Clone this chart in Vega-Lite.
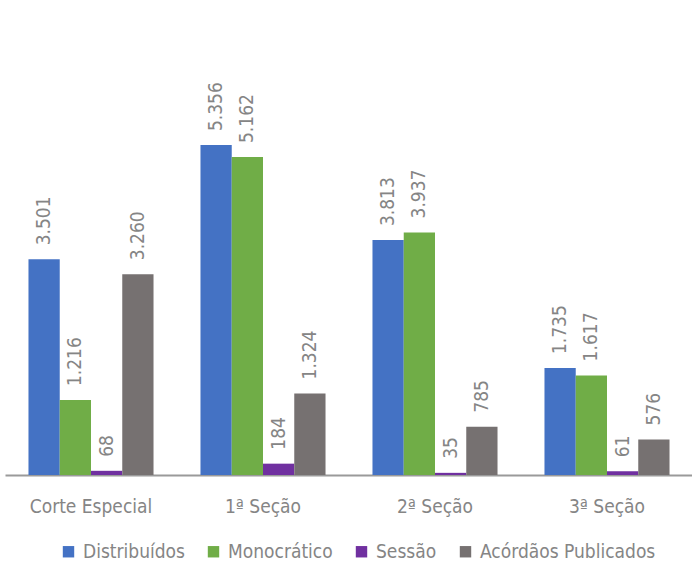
{
  "$schema": "https://vega.github.io/schema/vega-lite/v6.json",
  "width": 688,
  "height": 475,
  "autosize": {"type": "none"},
  "padding": {"left": 5, "top": 0, "right": 0, "bottom": 88},
  "background": "white",
  "config": {
    "view": {"stroke": null},
    "locale": {"number": {"decimal": ",", "thousands": ".", "grouping": [3], "currency": ["R$", ""]}},
    "font": "'DejaVu Sans Condensed', Roboto"
  },
  "data": {
    "values": [
      {"orgao": "Corte Especial", "serie": "Distribuídos", "valor": 3501},
      {"orgao": "Corte Especial", "serie": "Monocrático", "valor": 1216},
      {"orgao": "Corte Especial", "serie": "Sessão", "valor": 68},
      {"orgao": "Corte Especial", "serie": "Acórdãos Publicados", "valor": 3260},
      {"orgao": "1ª Seção", "serie": "Distribuídos", "valor": 5356},
      {"orgao": "1ª Seção", "serie": "Monocrático", "valor": 5162},
      {"orgao": "1ª Seção", "serie": "Sessão", "valor": 184},
      {"orgao": "1ª Seção", "serie": "Acórdãos Publicados", "valor": 1324},
      {"orgao": "2ª Seção", "serie": "Distribuídos", "valor": 3813},
      {"orgao": "2ª Seção", "serie": "Monocrático", "valor": 3937},
      {"orgao": "2ª Seção", "serie": "Sessão", "valor": 35},
      {"orgao": "2ª Seção", "serie": "Acórdãos Publicados", "valor": 785},
      {"orgao": "3ª Seção", "serie": "Distribuídos", "valor": 1735},
      {"orgao": "3ª Seção", "serie": "Monocrático", "valor": 1617},
      {"orgao": "3ª Seção", "serie": "Sessão", "valor": 61},
      {"orgao": "3ª Seção", "serie": "Acórdãos Publicados", "valor": 576}
    ]
  },
  "encoding": {
    "x": {
      "field": "orgao", "type": "nominal",
      "sort": ["Corte Especial", "1ª Seção", "2ª Seção", "3ª Seção"],
      "scale": {"paddingInner": 0.273, "paddingOuter": 0.1365},
      "axis": {
        "title": null, "labelAngle": 0, "ticks": false,
        "domainColor": "#9a9a9a", "domainWidth": 2,
        "labelFontSize": 19, "labelColor": "#858585", "labelPadding": 22,
        "labelFont": "'DejaVu Sans Condensed', Roboto", "labelFontWeight": 300
      }
    },
    "xOffset": {
      "field": "serie", "type": "nominal",
      "sort": ["Distribuídos", "Monocrático", "Sessão", "Acórdãos Publicados"]
    },
    "y": {
      "field": "valor", "type": "quantitative",
      "scale": {"domain": [0, 7711], "nice": false},
      "axis": null
    }
  },
  "layer": [
    {
      "mark": {"type": "bar"},
      "encoding": {
        "color": {
          "field": "serie", "type": "nominal",
          "sort": ["Distribuídos", "Monocrático", "Sessão", "Acórdãos Publicados"],
          "scale": {
            "domain": ["Distribuídos", "Monocrático", "Sessão", "Acórdãos Publicados"],
            "range": ["#4472C4", "#70AD47", "#7030A0", "#767171"]
          },
          "legend": {
            "title": null, "orient": "none", "direction": "horizontal",
            "legendX": 54, "legendY": 542,
            "symbolType": "square", "symbolSize": 130, "symbolStrokeWidth": 0,
            "labelFontSize": 19, "labelColor": "#858585", "labelOffset": 5,
            "labelLimit": 400, "labelFontWeight": 300,
            "columnPadding": 19, "labelFont": "'DejaVu Sans Condensed', Roboto"
          }
        }
      }
    },
    {
      "mark": {
        "type": "text", "angle": 270, "align": "left", "baseline": "middle",
        "dx": 14, "fontSize": 19, "fontWeight": 300, "color": "#858585",
        "font": "'DejaVu Sans Condensed', Roboto"
      },
      "encoding": {
        "text": {"field": "valor", "type": "quantitative", "format": ",d"}
      }
    }
  ]
}
